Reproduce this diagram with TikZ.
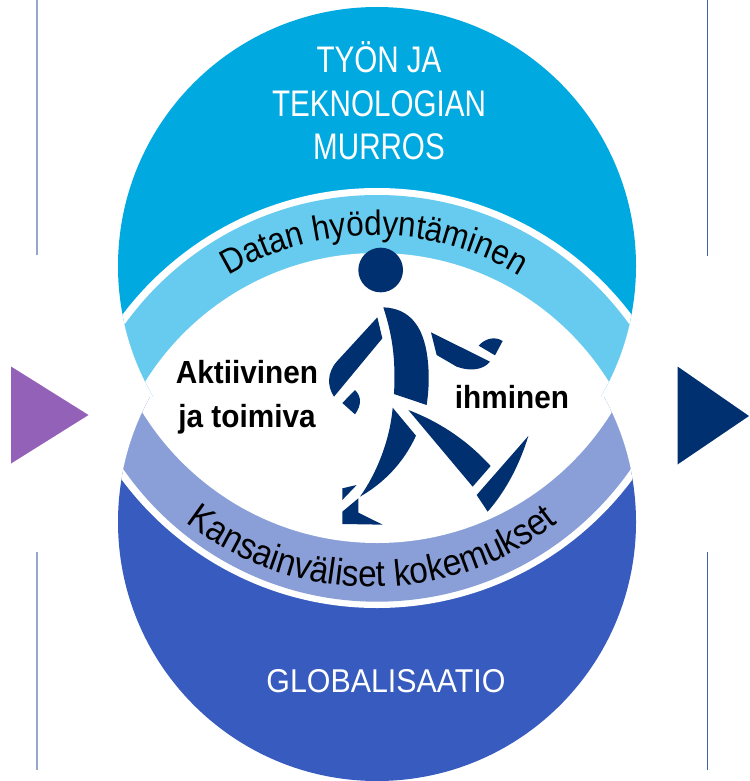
\documentclass[tikz,border=0pt]{standalone}
\usepackage{fontspec}
\setmainfont{Liberation Sans}
\newfontfamily\arcfontA[FakeStretch=.9]{Liberation Sans}
\newfontfamily\arcfontB[FakeStretch=.9]{Liberation Sans}
\usetikzlibrary{decorations.text}
\definecolor{topdark}{HTML}{00A9E0}
\definecolor{toplight}{HTML}{66CBEE}
\definecolor{botdark}{HTML}{375BBE}
\definecolor{botlight}{HTML}{8A9FD8}
\definecolor{navy}{HTML}{003070}
\definecolor{purp}{HTML}{9461B8}
\definecolor{lineL}{HTML}{95A8CB}
\definecolor{lineR}{HTML}{3E62A8}
\tikzset{
  fig/.style={fill=navy,draw=none},
  title/.style={text=white,align=center,inner sep=0pt,transform shape},
  bold/.style={text=black,align=center,inner sep=0pt,transform shape}
}
\begin{document}
\begin{tikzpicture}[x=1pt,y=-1pt]
\useasboundingbox (0,0) rectangle (749,781);
\fill[white] (0,0) rectangle (749,781);
% side lines
\draw[lineL,line width=2pt] (37,0) -- (37,255) (37,552) -- (37,770);
\draw[lineR,line width=1pt] (707.5,0) -- (707.5,255.5) (707.5,552) -- (707.5,770);
% triangles
\fill[purp] (11,366.5) -- (88.5,415) -- (11,463.5) -- cycle;
\fill[navy] (677.5,366.5) -- (749,416) -- (677.5,464.5) -- cycle;
% top circle
\begin{scope}
\clip (377,266) circle[radius=259];
\clip (0,0) rectangle (749,397);
\fill[topdark] (0,0) rectangle (749,397);
\fill[white] (377,507) circle[radius=319];
\fill[toplight] (377,505.6) circle[radius=310.6];
\fill[white] (377,526) circle[radius=273];
\end{scope}
% bottom circle
\begin{scope}
\clip (377,522) circle[radius=259];
\clip (0,397) rectangle (749,781);
\fill[botdark] (0,397) rectangle (749,781);
\fill[white] (377,290) circle[radius=318];
\fill[botlight] (377,292.8) circle[radius=308.9];
\fill[white] (377,267) circle[radius=276];
\end{scope}
% walking figure
\begin{scope}[shift={(320,230)},scale=0.33333]
\fill[fig] (182,120) circle[radius=67];
\fill[fig] (190,232) .. controls (270,235) and (310,290) .. (322,380) .. controls (330,440) and (325,490) .. (320,525) -- (222,492) .. controls (228,380) and (215,310) .. (190,232) -- cycle;
\fill[fig] (172,262) -- (187,325) -- (42,500) .. controls (22,470) and (20,430) .. (50,395) -- cycle;
\fill[fig] (105,480) .. controls (125,500) and (125,525) .. (105,553) -- (67,519) -- cycle;
\fill[fig] (333,307) -- (510,395) .. controls (490,420) and (450,425) .. (410,410) -- (350,375) -- cycle;
\fill[fig] (476,347) .. controls (495,325) and (525,318) .. (548,333) -- (525,376) -- cycle;
\fill[fig] (218,533) -- (288,617) .. controls (250,700) and (190,760) .. (120,800) .. controls (170,730) and (210,630) .. (218,533) -- cycle;
\fill[fig] (67,775) -- (110,765) -- (67,810) -- cycle;
\fill[fig] (115,805) -- (115,848) -- (188,884) -- (67,882) -- (67,845) -- cycle;
\fill[fig] (265,540) .. controls (370,580) and (450,640) .. (512,708) -- (458,770) -- cycle;
\fill[fig] (625,618) .. controls (600,700) and (560,780) .. (503,845) -- (470,795) -- cycle;
\end{scope}
% titles
\node[title,xscale=.8,font=\fontsize{37}{43.5}\selectfont] (t1) at (379,101) {TYÖN JA\\TEKNOLOGIAN\\MURROS};
\node[title,xscale=.92,font=\fontsize{33}{40}\selectfont] (t2) at (386,681) {GLOBALISAATIO};
% bold labels
\node[bold,xscale=.93,font=\bfseries\fontsize{32}{44}\selectfont] (a1) at (247,397) {Aktiivinen\\ja toimiva};
\node[bold,xscale=.93,font=\bfseries\fontsize{32}{40}\selectfont] (a2) at (512,397) {ihminen};
% curved labels
\path[decorate,decoration={text along path,text align=center,text={|\arcfontA\fontsize{35}{35}\selectfont|Datan hyödyntäminen}}]
  plot[domain=-40:40,samples=61] ({374+280*sin(\x)},{515-280*cos(\x)});
\path[decorate,decoration={text along path,text align=center,text={|\arcfontB\fontsize{37}{37}\selectfont|Kansainväliset kokemukset}}]
  plot[domain=-50:50,samples=81] ({372+302*sin(\x)},{285+302*cos(\x)});
\end{tikzpicture}
\end{document}
